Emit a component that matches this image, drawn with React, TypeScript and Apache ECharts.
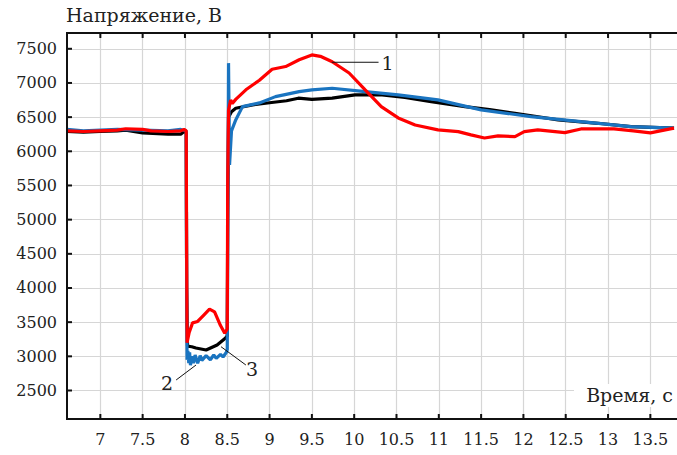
import React, { useEffect, useRef } from "react";
import * as echarts from "echarts";

const xTicks = [7, 7.5, 8, 8.5, 9, 9.5, 10, 10.5, 11, 11.5, 12, 12.5, 13, 13.5];
const yTicks = [2500, 3000, 3500, 4000, 4500, 5000, 5500, 6000, 6500, 7000, 7500];
const xRange = [6.606, 13.815];
const yRange = [2083, 7731];

// Curve 1 (red)
const curve1: [number, number][] = [
  [6.606, 6300], [6.8, 6290], [7.0, 6300], [7.2, 6310], [7.3, 6330], [7.5, 6320], [7.6, 6300],
  [7.8, 6290], [7.95, 6300], [7.99, 6320], [8.015, 6300], [8.02, 4500], [8.025, 3200],
  [8.05, 3350], [8.09, 3490], [8.15, 3510], [8.22, 3600], [8.29, 3690], [8.35, 3650],
  [8.42, 3450], [8.47, 3340], [8.5, 3400], [8.505, 5500], [8.515, 6600], [8.54, 6750],
  [8.56, 6700], [8.6, 6760], [8.72, 6900], [8.88, 7040], [9.03, 7200], [9.19, 7240],
  [9.35, 7340], [9.5, 7410], [9.6, 7390], [9.74, 7310], [9.94, 7146], [10.13, 6898],
  [10.32, 6653], [10.52, 6488], [10.72, 6385], [10.99, 6313], [11.23, 6288], [11.38, 6240],
  [11.54, 6195], [11.7, 6225], [11.9, 6215], [12.01, 6288], [12.17, 6313], [12.49, 6274],
  [12.68, 6327], [13.07, 6327], [13.3, 6300], [13.5, 6270], [13.78, 6340],
];

// Curve 2 (blue)
const curve2: [number, number][] = [
  [6.606, 6320], [6.8, 6300], [7.0, 6310], [7.2, 6320], [7.5, 6310], [7.8, 6300], [7.95, 6320],
  [8.015, 6300], [8.02, 4000], [8.025, 2950], [8.035, 3080], [8.045, 2900], [8.055, 3060],
  [8.065, 2870], [8.08, 3000], [8.1, 2900], [8.12, 3020], [8.15, 2900], [8.18, 3010],
  [8.2, 2940], [8.25, 3010], [8.3, 2950], [8.34, 3020], [8.37, 2970], [8.42, 3030],
  [8.45, 2990], [8.49, 3060], [8.5, 3100], [8.515, 7290], [8.522, 7290], [8.527, 5800],
  [8.55, 6300], [8.6, 6459], [8.68, 6654], [8.88, 6708], [9.07, 6800], [9.35, 6874],
  [9.5, 6900], [9.74, 6923], [10.13, 6874], [10.52, 6825], [10.99, 6752], [11.5, 6606],
  [12.09, 6508], [12.68, 6434], [13.27, 6361], [13.78, 6340],
];

// Curve 3 (black)
const curve3: [number, number][] = [
  [6.606, 6290], [6.8, 6280], [7.0, 6290], [7.2, 6300], [7.3, 6310], [7.5, 6270], [7.8, 6250],
  [7.95, 6250], [7.99, 6290], [8.015, 6270], [8.02, 4000], [8.03, 3150], [8.08, 3140],
  [8.13, 3122], [8.25, 3093], [8.38, 3166], [8.48, 3268], [8.5, 3300], [8.505, 5000],
  [8.515, 6500], [8.55, 6580], [8.6, 6630], [8.8, 6680], [9.0, 6710], [9.2, 6740],
  [9.34, 6777], [9.5, 6760], [9.74, 6777], [10.01, 6825], [10.33, 6825], [10.6, 6790],
  [10.91, 6727], [11.31, 6654], [11.6, 6610], [11.9, 6557], [12.41, 6459], [12.88, 6410],
  [13.27, 6361], [13.78, 6340],
];

// Leader lines for the curve numbers: [start, end] in data coordinates
const leader1: [number, number][] = [[9.735, 7303], [10.288, 7303]];
const leader2: [number, number][] = [[7.896, 2654], [8.131, 2873]];
const leader3: [number, number][] = [[8.426, 3141], [8.72, 2873]];

const FONT = "DejaVu Serif";

export default function App() {
  const ref = useRef<HTMLDivElement>(null);
  useEffect(() => {
    document.body.style.margin = "0";
    const chart = echarts.init(ref.current!, null, { renderer: "svg" });
    const mkSplit = () => ({ show: true, lineStyle: { color: "#d6d6d6", width: 1.2 } });
    chart.setOption({
      animation: false,
      grid: { left: 67, right: -3, top: 33, bottom: 36 },
      xAxis: {
        type: "value",
        min: xRange[0],
        max: xRange[1],
        axisLine: { show: true, lineStyle: { color: "#111", width: 2 } },
        axisTick: { show: false, customValues: xTicks },
        splitLine: mkSplit(),
        axisLabel: {
          customValues: xTicks,
          margin: 12,
          fontFamily: FONT,
          fontSize: 16,
          color: "#222",
          formatter: (v: number) => String(v),
        },
      },
      yAxis: {
        type: "value",
        min: yRange[0],
        max: yRange[1],
        axisLine: { show: true, lineStyle: { color: "#111", width: 2 } },
        axisTick: { show: false, customValues: yTicks },
        splitLine: mkSplit(),
        axisLabel: {
          customValues: yTicks,
          margin: 10,
          fontFamily: FONT,
          fontSize: 16,
          color: "#222",
          formatter: (v: number) => String(v),
        },
      },
      series: [
        { type: "line", data: curve3, showSymbol: false, lineStyle: { color: "#000", width: 3.2 } },
        { type: "line", data: curve2, showSymbol: false, lineStyle: { color: "#1a74c0", width: 3.2 } },
        { type: "line", data: curve1, showSymbol: false, lineStyle: { color: "#ff0000", width: 3.2 } },
      ],
    });

    const px = (p: number[]) => chart.convertToPixel({ gridIndex: 0 }, p) as number[];
    const textStyle = (text: string, align: string) => ({
      text,
      fill: "#222",
      font: `19px "${FONT}"`,
      textAlign: align,
      textVerticalAlign: "middle",
    });
    const frameStyle = { stroke: "#111", lineWidth: 2 };
    const tl = px([xRange[0], yRange[1]]);
    const br = px([xRange[1], yRange[0]]);
    const graphics: any[] = [
      { type: "line", shape: { x1: tl[0], y1: tl[1], x2: tl[0], y2: br[1] }, style: frameStyle, z: 20 },
      { type: "line", shape: { x1: tl[0] - 1, y1: br[1], x2: br[0], y2: br[1] }, style: frameStyle, z: 20 },
      { type: "line", shape: { x1: tl[0] - 1, y1: tl[1], x2: br[0], y2: tl[1] }, style: frameStyle, z: 20 },
    ];
    xTicks.forEach((t) => {
      const x = px([t, yRange[0]])[0];
      graphics.push({ type: "line", shape: { x1: x, y1: br[1], x2: x, y2: br[1] - 5 }, style: frameStyle, z: 20 });
      graphics.push({ type: "line", shape: { x1: x, y1: tl[1], x2: x, y2: tl[1] + 5 }, style: frameStyle, z: 20 });
    });
    yTicks.forEach((v) => {
      const y = px([xRange[0], v])[1];
      graphics.push({ type: "line", shape: { x1: tl[0], y1: y, x2: tl[0] + 5, y2: y }, style: frameStyle, z: 20 });
    });
    graphics.push(
      { type: "text", left: 66, top: 5, style: textStyle("Напряжение, В", "left") },
      { type: "rect", shape: { x: 574, y: 384, width: 110, height: 23 }, style: { fill: "#fff" }, z: 10 },
      { type: "text", x: 673, y: 395, style: textStyle("Время, с", "right"), z: 11 },
    );
    const leaders = [leader1, leader2, leader3].map((l) => [px(l[0]), px(l[1])]);
    leaders.forEach(([a, b]) => {
      graphics.push({
        type: "line",
        shape: { x1: a[0], y1: a[1], x2: b[0], y2: b[1] },
        style: { stroke: "#111", lineWidth: 1 },
        z: 12,
      });
    });
    graphics.push({ type: "text", x: leaders[0][1][0] + 3, y: leaders[0][1][1] + 1, style: textStyle("1", "left"), z: 12 });
    graphics.push({ type: "text", x: leaders[1][0][0] - 3, y: leaders[1][0][1] + 3, style: textStyle("2", "right"), z: 12 });
    graphics.push({ type: "text", x: leaders[2][1][0], y: leaders[2][1][1] + 4, style: textStyle("3", "left"), z: 12 });
    chart.setOption({ graphic: graphics });
    return () => chart.dispose();
  }, []);
  return <div ref={ref} style={{ position: "absolute", left: 0, top: 0, width: 677, height: 455 }} />;
}
